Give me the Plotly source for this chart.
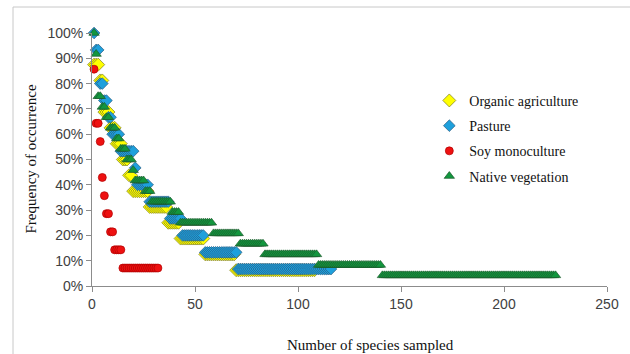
import numpy as np
import plotly.graph_objects as go

# Frequency levels (%) and number of species at each level (rank-ordered)
organic_freq = [87.5, 81.25, 68.75, 62.5, 56.25, 50.0, 43.75, 37.5, 31.25, 25.0, 18.75, 12.5, 6.25]
organic_count = [3, 2, 3, 3, 3, 3, 2, 8, 9, 6, 12, 15, 39]

pasture_freq = [100.0, 93.3, 80.0, 73.3, 66.7, 60.0, 53.3, 46.7, 40.0, 33.3, 26.7, 20.0, 13.3, 6.7]
pasture_count = [1, 2, 2, 2, 2, 4, 7, 1, 6, 10, 6, 11, 16, 46]

soy_freq = [85.7, 64.3, 57.1, 42.9, 35.7, 28.6, 21.4, 14.3, 7.1]
soy_count = [1, 2, 1, 1, 1, 2, 2, 4, 18]

native_freq = [100.0, 91.7, 75.0, 70.8, 66.7, 62.5, 58.3, 54.2, 50.0, 45.8, 41.7, 37.5,
               33.3, 29.2, 25.0, 20.8, 16.7, 12.5, 8.3, 4.2]
native_count = [1, 1, 2, 2, 2, 3, 2, 3, 3, 1, 5, 3, 10, 4, 16, 13, 12, 26, 31, 85]

x_ticks = [0, 50, 100, 150, 200, 250]
y_ticks = [0, 10, 20, 30, 40, 50, 60, 70, 80, 90, 100]
y_tick_text = ["0%", "10%", "20%", "30%", "40%", "50%", "60%", "70%", "80%", "90%", "100%"]


def expand(freq, count):
    y = np.repeat(freq, count)
    x = np.arange(1, len(y) + 1)
    return x, y


series = [
    ("Organic agriculture", organic_freq, organic_count, "diamond", "#FFFF00", "#7a7a20", 10),
    ("Pasture", pasture_freq, pasture_count, "diamond", "#1EA0DC", "#2a5a80", 9),
    ("Soy monoculture", soy_freq, soy_count, "circle", "#EE1111", "#b00000", 8),
    ("Native vegetation", native_freq, native_count, "triangle-up", "#12963E", "#1d5a2d", 9),
]

fig = go.Figure()
for name, f, c, sym, col, lcol, size in series:
    x, y = expand(f, c)
    fig.add_trace(go.Scatter(
        x=x, y=y, mode="markers", name=name, legendgroup=name,
        cliponaxis=False,
        marker=dict(symbol=sym, color=col, size=size,
                    line=dict(color=lcol, width=0.7)),
    ))

W, H = 630, 354
L, R, T, B = 92, 23, 33, 68
pw, ph = W - L - R, H - T - B


def px(xp):
    return (xp - L) / pw


def py(yp):
    return (H - B - yp) / ph


axis_common = dict(showgrid=False, zeroline=False, showline=True, linecolor="#8c8c8c",
                   linewidth=1, ticks="outside", tickcolor="#8c8c8c", ticklen=5,
                   tickfont=dict(family="Liberation Sans, Arial", size=14, color="#404040"))

fig.update_layout(
    width=W, height=H,
    margin=dict(l=L, r=R, t=T, b=B),
    paper_bgcolor="white", plot_bgcolor="white",
    xaxis=dict(range=[0, 250], tickmode="array", tickvals=x_ticks, **axis_common),
    yaxis=dict(range=[0, 100], tickmode="array", tickvals=y_ticks, ticktext=y_tick_text,
               **axis_common),
    showlegend=True,
    legend=dict(x=0.655, y=0.795, xanchor="left", yanchor="top",
                font=dict(family="Liberation Serif, Times New Roman", size=14, color="#111111"),
                tracegroupgap=4, bgcolor="rgba(0,0,0,0)"),
    annotations=[
        dict(text="Frequency of occurrence", xref="paper", yref="paper",
             x=px(30), y=0.5, xanchor="center", yanchor="middle", textangle=-90, showarrow=False,
             font=dict(family="Liberation Serif, Times New Roman", size=15, color="#111111")),
        dict(text="Number of species sampled", xref="paper", yref="paper",
             x=px(370), y=py(345), xanchor="center", yanchor="middle", showarrow=False,
             font=dict(family="Liberation Serif, Times New Roman", size=15, color="#111111")),
    ],
    shapes=[
        dict(type="line", xref="paper", yref="paper", x0=px(13), x1=px(630), y0=py(7), y1=py(7),
             line=dict(color="#c8c8c8", width=1)),
        dict(type="line", xref="paper", yref="paper", x0=px(13), x1=px(13), y0=py(7), y1=py(354),
             line=dict(color="#c8c8c8", width=1)),
    ],
)

fig.write_html("out.html")
